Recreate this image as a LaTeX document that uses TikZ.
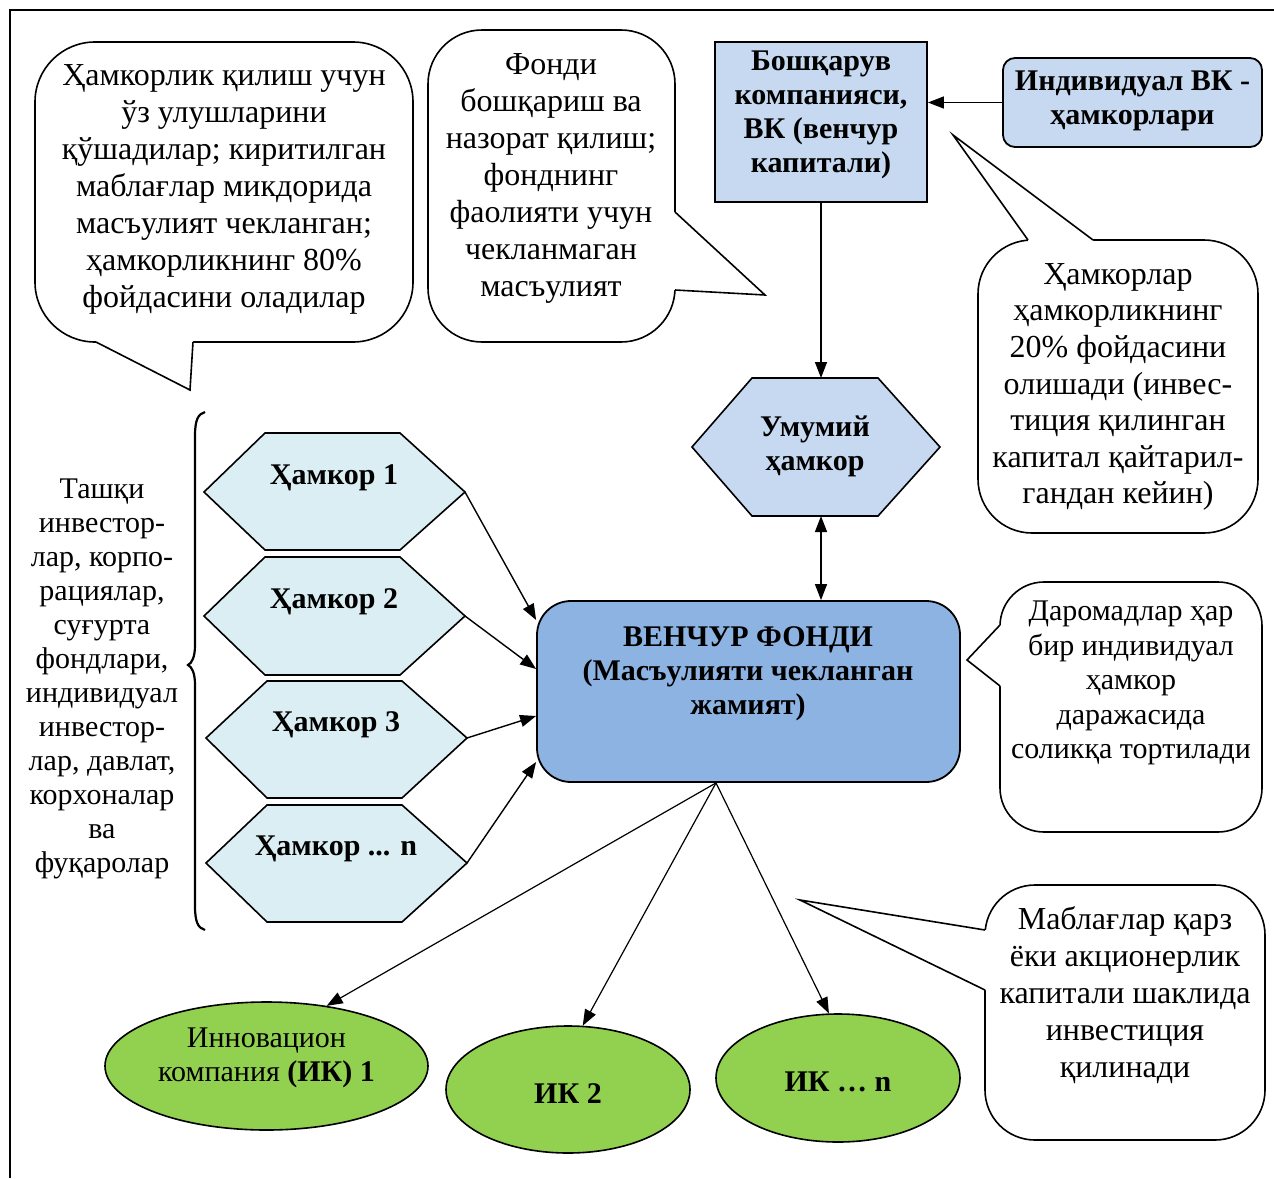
\documentclass[tikz,border=0pt]{standalone}
\usepackage{fontspec}
\setmainfont{Liberation Serif}
\usetikzlibrary{arrows.meta,shapes.geometric}
\definecolor{lblue}{RGB}{198,217,241}
\definecolor{mblue}{RGB}{141,179,226}
\definecolor{lcyan}{RGB}{218,238,243}
\definecolor{lgreen}{RGB}{146,208,80}
\begin{document}
\begin{tikzpicture}[x=0.5pt,y=-0.5pt,
  arr/.style={-{Triangle[length=8pt,width=6pt]}, line width=0.7pt},
  darr/.style={{Triangle[length=8pt,width=6pt]}-{Triangle[length=8pt,width=6pt]}, line width=0.7pt},
  cbox/.style={draw, fill=white, line width=0.8pt, inner sep=0pt},
  tail/.style={line width=0.8pt, line join=miter},
  ctext/.style={align=center, font=\fontsize{16pt}{18.5pt}\selectfont},
  btext/.style={align=center, font=\fontsize{15pt}{17pt}\selectfont\bfseries},
  hexa/.style={draw, line width=0.8pt},
  ell/.style={draw, ellipse, fill=lgreen, line width=0.8pt, inner sep=1pt}]
\useasboundingbox (0,0) rectangle (1274,1178);
\fill[white] (0,0) rectangle (1274,1178);
% frame
\draw[line width=1pt] (10,1178) -- (10,10) -- (1274,10);

% Callout A
\node[cbox, rounded corners=30pt, minimum width=189pt, minimum height=150pt] (cA) at (224,192) {};
\fill[white] (96,336) -- (96,342) -- (190,390) -- (193,342) -- (193,336) -- cycle;
\draw[tail] (96,342) -- (190,390) -- (193,342);
\node[ctext] (tA) at (224,189) {Ҳамкорлик қилиш учун\\ўз улушларини\\қўшадилар; киритилган\\маблағлар микдорида\\масъулият чекланган;\\ҳамкорликнинг 80\%\\фойдасини оладилар};

% Callout B
\node[cbox, rounded corners=27pt, minimum width=123.5pt, minimum height=156pt] (cB) at (551.5,186) {};
\fill[white] (669,212) -- (675,212) -- (765,295) -- (675,290) -- (669,290) -- cycle;
\draw[tail] (675,212) -- (765,295) -- (675,290);
\node[ctext] (tB) at (551,178.5) {Фонди\\бошқариш ва\\назорат қилиш;\\фонднинг\\фаолияти учун\\чекланмаган\\масъулият};

% Бошқарув box
\node[draw, fill=lblue, line width=0.9pt, minimum width=106pt, minimum height=80pt] (bk) at (821,122) {};
\node[btext] (tbk) at (821,115) {Бошқарув\\компанияси,\\ВК (венчур\\капитали)};

% Индивидуал box
\node[draw, fill=lblue, line width=0.9pt, rounded corners=6pt, minimum width=129.5pt, minimum height=44.5pt] (ik) at (1132.5,102.5) {};
\node[btext] (tik) at (1132.5,101) {Индивидуал ВК -\\ҳамкорлари};
\draw[arr] (ik.west) -- (ik.west -| bk.east);

% Callout C
\node[cbox, rounded corners=27pt, minimum width=140pt, minimum height=146.5pt] (cC) at (1118,386.5) {};
\fill[white] (1028,247) -- (1028,240) -- (953,135) -- (1093,240) -- (1093,247) -- cycle;
\draw[tail] (1028,240) -- (953,135) -- (1093,240);
\node[ctext, font=\fontsize{16pt}{18.3pt}\selectfont] (tC) at (1118,387) {Ҳамкорлар\\ҳамкорликнинг\\20\% фойдасини\\олишади (инвес-\\тиция қилинган\\капитал қайтарил-\\гандан кейин)};

% Умумий ҳамкор hexagon
\draw[hexa, fill=lblue] (692,447) -- (752,378) -- (878,378) -- (940,447) -- (878,516) -- (752,516) -- cycle;
\coordinate (umT) at (821,378);
\coordinate (umB) at (821,516);
\node[btext] (um) at (815,446) {Умумий\\ҳамкор};
\draw[arr] (bk.south) -- (umT);

% Венчур фонди
\node[draw, fill=mblue, line width=0.9pt, rounded corners=17pt, minimum width=211.5pt, minimum height=90.5pt] (vf) at (748.5,691.5) {};
\node[btext] (tvf) at (748,674) {ВЕНЧУР ФОНДИ\\(Масъулияти чекланган\\жамият)};
\draw[darr] (umB) -- (umB |- vf.north);

% Ҳамкор hexagons
\draw[hexa, fill=lcyan] (204,492) -- (265,433) -- (400,433) -- (465,492) -- (400,550) -- (265,550) -- cycle;
\draw[hexa, fill=lcyan] (204,616) -- (265,557) -- (400,557) -- (465,616) -- (400,675) -- (265,675) -- cycle;
\draw[hexa, fill=lcyan] (206,738) -- (267,681) -- (402,681) -- (467,738) -- (402,798) -- (267,798) -- cycle;
\draw[hexa, fill=lcyan] (206,863) -- (267,805) -- (402,805) -- (467,863) -- (402,922) -- (267,922) -- cycle;
\coordinate (h1) at (465,492);
\coordinate (h2) at (465,616);
\coordinate (h3) at (467,738);
\coordinate (h4) at (467,863);
\node[btext] (th1) at (334,478) {Ҳамкор 1};
\node[btext] (th2) at (334,602) {Ҳамкор 2};
\node[btext] (th3) at (336,725) {Ҳамкор 3};
\node[btext] (th4) at (336,849) {Ҳамкор ... n};
\draw[arr] (h1) -- ([yshift=35.75pt]vf.west);
\draw[arr] (h2) -- ([yshift=11.25pt]vf.west);
\draw[arr] (h3) -- ([yshift=-12.25pt]vf.west);
\draw[arr] (h4) -- ([yshift=-35.25pt]vf.west);

% brace and left text
\draw[line width=1.1pt] (205,412) .. controls (198,414) and (195,420) .. (195,436) -- (195,645) .. controls (195,657) and (192,663) .. (188,665) .. controls (192,667) and (195,673) .. (195,685) -- (195,906) .. controls (195,922) and (198,928) .. (205,930);
\node[align=center, font=\fontsize{15pt}{17pt}\selectfont] (ext) at (102,679) {Ташқи\\инвестор-\\лар, корпо-\\рациялар,\\суғурта\\фондлари,\\индивидуал\\инвестор-\\лар, давлат,\\корхоналар\\ва\\фуқаролар};

% Callout D
\node[cbox, rounded corners=22pt, minimum width=131pt, minimum height=125pt] (cD) at (1131,707) {};
\fill[white] (1006,625) -- (1000,625) -- (967,660) -- (1000,686) -- (1006,686) -- cycle;
\draw[tail] (1000,625) -- (967,660) -- (1000,686);
\node[ctext, font=\fontsize{15pt}{17.25pt}\selectfont] (tD) at (1131,683) {Даромадлар ҳар\\бир индивидуал\\ҳамкор\\даражасида\\соликқа тортилади};

% Callout E
\node[cbox, rounded corners=25pt, minimum width=140pt, minimum height=127.5pt] (cE) at (1125,1012.5) {};
\fill[white] (991,930) -- (985,930) -- (800,900) -- (985,990) -- (991,990) -- cycle;
\draw[tail] (985,930) -- (800,900) -- (985,990);
\node[ctext] (tE) at (1125,995) {Маблағлар қарз\\ёки акционерлик\\капитали шаклида\\инвестиция\\қилинади};

% Ellipses
\node[ell, minimum width=161.5pt, minimum height=64pt] (e1) at (266.5,1066) {};
\node[ell, minimum width=122pt, minimum height=63.5pt] (e2) at (568,1089.5) {};
\node[ell, minimum width=122pt, minimum height=64pt] (e3) at (838,1078) {};
\node[align=center, font=\fontsize{15pt}{17pt}\selectfont] (te1) at (266.5,1058) {Инновацион\\компания \textbf{(ИК) 1}};
\node[font=\fontsize{15pt}{17pt}\selectfont\bfseries] (te2) at (568,1094) {ИК 2};
\node[font=\fontsize{15pt}{17pt}\selectfont\bfseries] (te3) at (838,1082) {ИК … n};
\coordinate (vfb) at ([xshift=-16.25pt]vf.south);
\draw[arr, line width=0.6pt] (vfb) -- (e1.45);
\draw[arr, line width=0.6pt] (vfb) -- (e2.77);
\draw[arr, line width=0.6pt] (vfb) -- (e3.98);
\end{tikzpicture}
\end{document}
